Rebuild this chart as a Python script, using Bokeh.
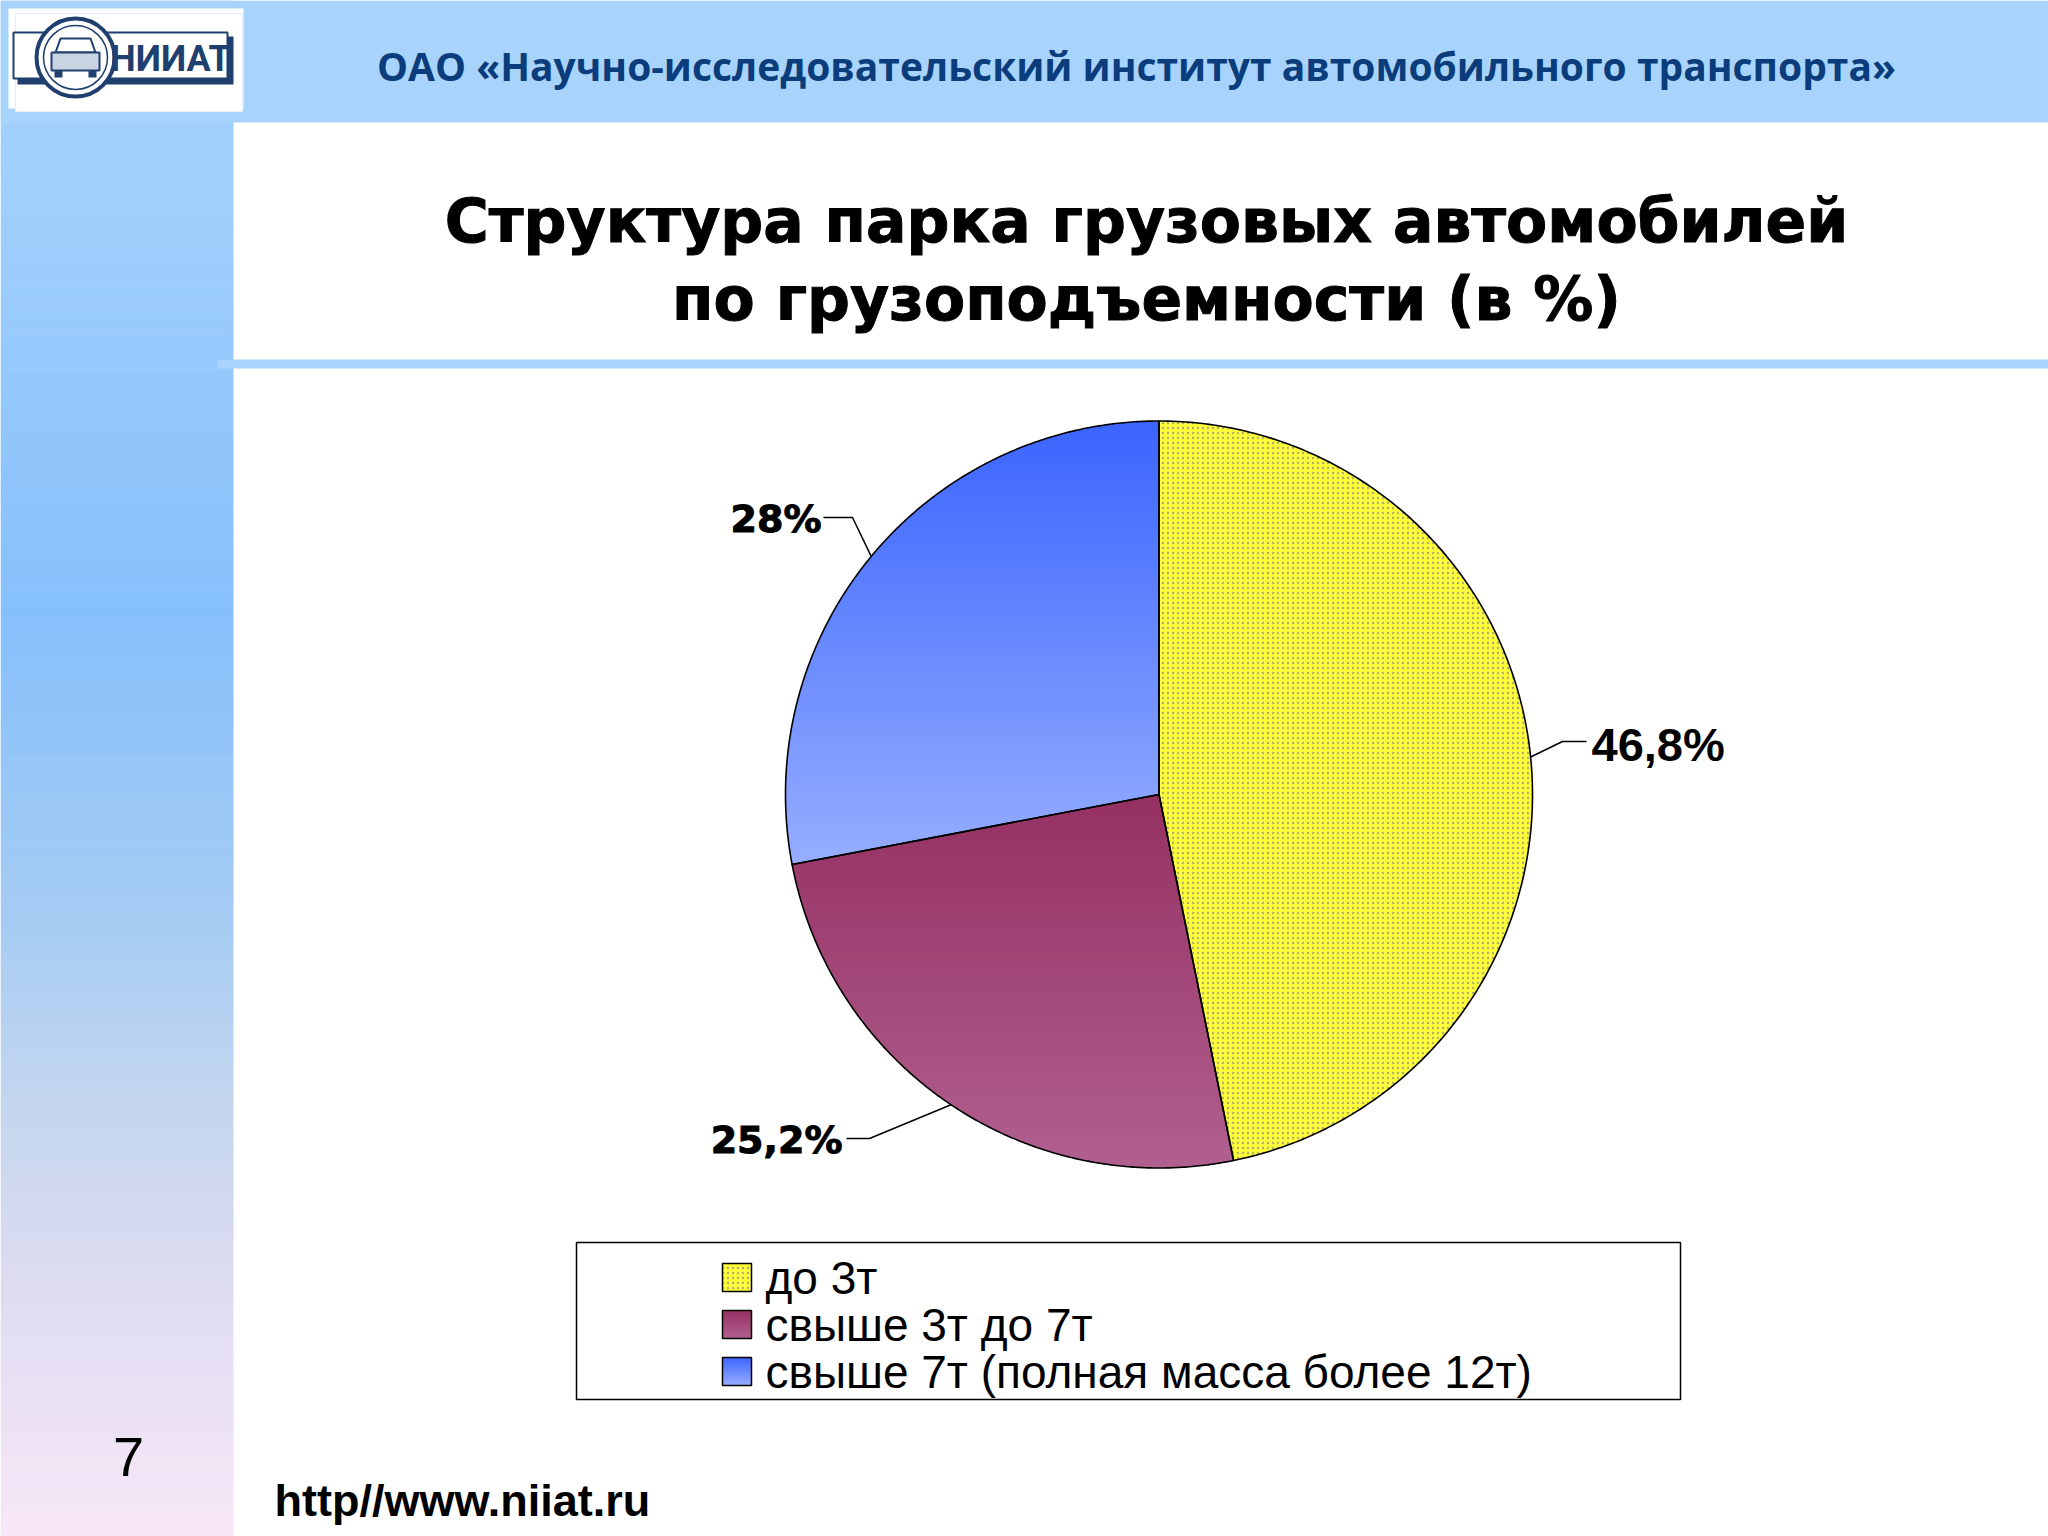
import math
from bokeh.plotting import figure
from bokeh.models import Range1d
from bokeh.core.properties import value
from bokeh.embed import file_html
from bokeh.resources import INLINE

# ---------------- data ----------------
categories = ["до 3т", "свыше 3т до 7т", "свыше 7т (полная масса более 12т)"]
shares = [46.8, 25.2, 28.0]
share_labels = ["46,8%", "25,2%", "28%"]
header_text = "ОАО «Научно-исследовательский институт автомобильного транспорта»"
title_lines = ["Структура парка грузовых автомобилей", "по грузоподъемности (в %)"]
page_number = "7"
site_url = "http//www.niiat.ru"
logo_text = "НИИАТ"

# ---------------- figure (1 data unit = 1 px of the 2048x1536 page) ----------------
W, H = 2048, 1536
p = figure(width=W, height=H, x_range=Range1d(0, W), y_range=Range1d(H, 0),
           output_backend="svg", toolbar_location=None, x_axis_type=None, y_axis_type=None,
           min_border=0, outline_line_color=None, background_fill_color="white",
           border_fill_color="white")
p.grid.visible = False


def hex2rgb(h):
    h = h.lstrip("#")
    return tuple(int(h[i:i + 2], 16) for i in (0, 2, 4))


def lerp_color(stops, t):
    for i in range(len(stops) - 1):
        t0, c0 = stops[i]
        t1, c1 = stops[i + 1]
        if t <= t1 or i == len(stops) - 2:
            u = 0 if t1 == t0 else max(0, min(1, (t - t0) / (t1 - t0)))
            a, b = hex2rgb(c0), hex2rgb(c1)
            return "#%02x%02x%02x" % tuple(int(round(a[k] + (b[k] - a[k]) * u)) for k in range(3))


def clip(poly, y0, y1):
    def clip_half(pts, keep, inter):
        out = []
        n = len(pts)
        for i in range(n):
            cur, prev = pts[i], pts[i - 1]
            if keep(cur):
                if not keep(prev):
                    out.append(inter(prev, cur))
                out.append(cur)
            elif keep(prev):
                out.append(inter(prev, cur))
        return out

    def inter_y(yc):
        def f(a, b):
            t = (yc - a[1]) / (b[1] - a[1])
            return (a[0] + (b[0] - a[0]) * t, yc)
        return f
    pts = clip_half(poly, lambda q: q[1] >= y0, inter_y(y0))
    if not pts:
        return []
    pts = clip_half(pts, lambda q: q[1] <= y1, inter_y(y1))
    return pts


def gradient_fill(poly, stops, n=90):
    ys = [q[1] for q in poly]
    ya, yb = min(ys), max(ys)
    xs_l, ys_l, cols = [], [], []
    for i in range(n):
        a = ya + (yb - ya) * i / n
        b = ya + (yb - ya) * (i + 1) / n
        c = clip(poly, a - 0.6, b + 0.6)
        if len(c) >= 3:
            xs_l.append([q[0] for q in c])
            ys_l.append([q[1] for q in c])
            cols.append(lerp_color(stops, (i + 0.5) / n))
    p.patches(xs_l, ys_l, fill_color=cols, line_color=None)


def heavy_text(**kw):
    try:
        return p.text(text_outline_color=kw.get("text_color", "black"), **kw)
    except Exception:
        return p.text(**kw)


NAVY = "#1f3f6f"

# ---------------- slide background ----------------
side_stops = [(0, "#a6d3fc"), (0.13, "#a0cffc"), (0.40, "#86c0fb"), (0.60, "#a6ccf3"),
              (0.72, "#c4d6ee"), (0.84, "#dedcf1"), (1.0, "#f8e7f7")]
sb_n = 150
p.quad(left=[0] * sb_n, right=[233] * sb_n,
       top=[H * i / sb_n for i in range(sb_n)],
       bottom=[H * (i + 1) / sb_n + 0.6 for i in range(sb_n)],
       fill_color=[lerp_color(side_stops, (i + 0.5) / sb_n) for i in range(sb_n)], line_color=None)
p.quad(left=[0], right=[W], top=[0], bottom=[122], fill_color="#a8d4fb", line_color=None)
p.quad(left=[217], right=[W], top=[359], bottom=[368], fill_color="#a8d4fb", line_color=None)

# ---------------- logo ----------------
p.quad(left=[8], right=[243], top=[8], bottom=[108], fill_color="white", line_color=None)
p.quad(left=[15], right=[242], top=[13], bottom=[111], fill_color="white", line_color="#e6f0fa", line_width=1)
# band with shadow
p.quad(left=[17], right=[233], top=[36], bottom=[84], fill_color=NAVY, line_color=None)
p.quad(left=[13], right=[227], top=[32], bottom=[78], fill_color="white", line_color=NAVY, line_width=2)
# emblem circle
p.circle(x=[75], y=[57], radius=39, fill_color="white", line_color=NAVY, line_width=4)
p.circle(x=[75], y=[57], radius=32, fill_color="white", line_color=NAVY, line_width=1.5)
# car front
p.patch([60, 90, 95, 55], [38, 38, 52, 52], fill_color="white", line_color=NAVY, line_width=2)
p.quad(left=[51], right=[99], top=[52], bottom=[70], fill_color="#c9d4e3", line_color=NAVY, line_width=2)
p.quad(left=[54, 88], right=[62, 96], top=[70, 70], bottom=[77, 77], fill_color=NAVY, line_color=None)
p.text(x=[170], y=[58], text=[logo_text], text_font=value("Roboto"), text_font_style="bold",
       text_font_size="36px", text_color=NAVY, text_align="center", text_baseline="middle")

# ---------------- header & titles ----------------
p.text(x=[1136], y=[65], text=[header_text], text_font=value("Open Sans"), text_font_style="bold",
       text_font_size="39px", text_color="#0b3d7c", text_align="center", text_baseline="middle")
heavy_text(x=[1146, 1146], y=[220, 298], text=title_lines, text_font=value("DejaVu Sans"),
           text_font_style="bold", text_font_size="60px", text_color="black",
           text_align="center", text_baseline="middle")

# ---------------- pie ----------------
cx, cy, R = 1158.5, 794, 373.5
fills = [None,
         [(0, "#953062"), (1, "#b0608f")],
         [(0, "#3a64ff"), (1, "#96aeff")]]
cum = 0
slices = []
for s in shares:
    a0 = 90 - 360 * cum / 100
    cum += s
    a1 = 90 - 360 * cum / 100
    slices.append((a0, a1))


def wedge_poly(a0, a1, n=240):
    pts = [(cx, cy)]
    for k in range(n + 1):
        a = math.radians(a0 + (a1 - a0) * k / n)
        pts.append((cx + R * math.cos(a), cy - R * math.sin(a)))
    return pts


YELLOW = dict(fill_color="#ffff3a", hatch_pattern="dot", hatch_color="#9c9a78", hatch_scale=5,
              hatch_weight=1.3, hatch_alpha=0.8)
for i, (a0, a1) in enumerate(slices):
    poly = wedge_poly(a0, a1)
    if fills[i] is None:
        p.patch([q[0] for q in poly], [q[1] for q in poly], line_color=None, **YELLOW)
    else:
        gradient_fill(poly, fills[i])
for i, (a0, a1) in enumerate(slices):
    poly = wedge_poly(a0, a1)
    p.patch([q[0] for q in poly], [q[1] for q in poly], fill_color=None, line_color="black",
            line_width=1.6, line_join="round")

# leader lines + labels
bends = [(1562, 741), (869, 1138), (852, 517)]
ends = [(1586, 741), (846, 1138), (823, 517)]
for i, (a0, a1) in enumerate(slices):
    am = math.radians((a0 + a1) / 2)
    sx, sy = cx + R * math.cos(am), cy - R * math.sin(am)
    p.line([sx, bends[i][0], ends[i][0]], [sy, bends[i][1], ends[i][1]], line_color="black", line_width=1.5)

p.text(x=[1591], y=[744], text=[share_labels[0]], text_font=value("Liberation Sans"),
       text_font_style="bold", text_font_size="47px", text_color="black",
       text_align="left", text_baseline="middle")
heavy_text(x=[842, 821], y=[1139, 518], text=[share_labels[1], share_labels[2]],
           text_font=value("DejaVu Sans"), text_font_style="bold", text_font_size="38px",
           text_color="black", text_align="right", text_baseline="middle")

# ---------------- legend ----------------
p.quad(left=[576], right=[1680], top=[1242], bottom=[1399], fill_color="white",
       line_color="black", line_width=1.5)
row_y = [1277, 1324, 1371]
sw_l, sw_r, sw_h = 722, 751, 28
for i, yy in enumerate(row_y):
    rect = [(sw_l, yy - sw_h / 2), (sw_r, yy - sw_h / 2), (sw_r, yy + sw_h / 2), (sw_l, yy + sw_h / 2)]
    if fills[i] is None:
        p.patch([q[0] for q in rect], [q[1] for q in rect], line_color=None, **YELLOW)
    else:
        gradient_fill(rect, fills[i], n=20)
    p.patch([q[0] for q in rect], [q[1] for q in rect], fill_color=None, line_color="black", line_width=1.5)
p.text(x=[765] * 3, y=row_y, text=categories, text_font=value("Liberation Sans"),
       text_font_size="46px", text_color="black", text_align="left", text_baseline="middle")

# ---------------- footer ----------------
p.text(x=[128], y=[1456], text=[page_number], text_font=value("Liberation Sans"),
       text_font_size="56px", text_color="black", text_align="center", text_baseline="middle")
p.text(x=[274], y=[1500], text=[site_url], text_font=value("Liberation Sans"), text_font_style="bold",
       text_font_size="45px", text_color="black", text_align="left", text_baseline="middle")

open("out.html", "w").write(file_html(p, INLINE))
